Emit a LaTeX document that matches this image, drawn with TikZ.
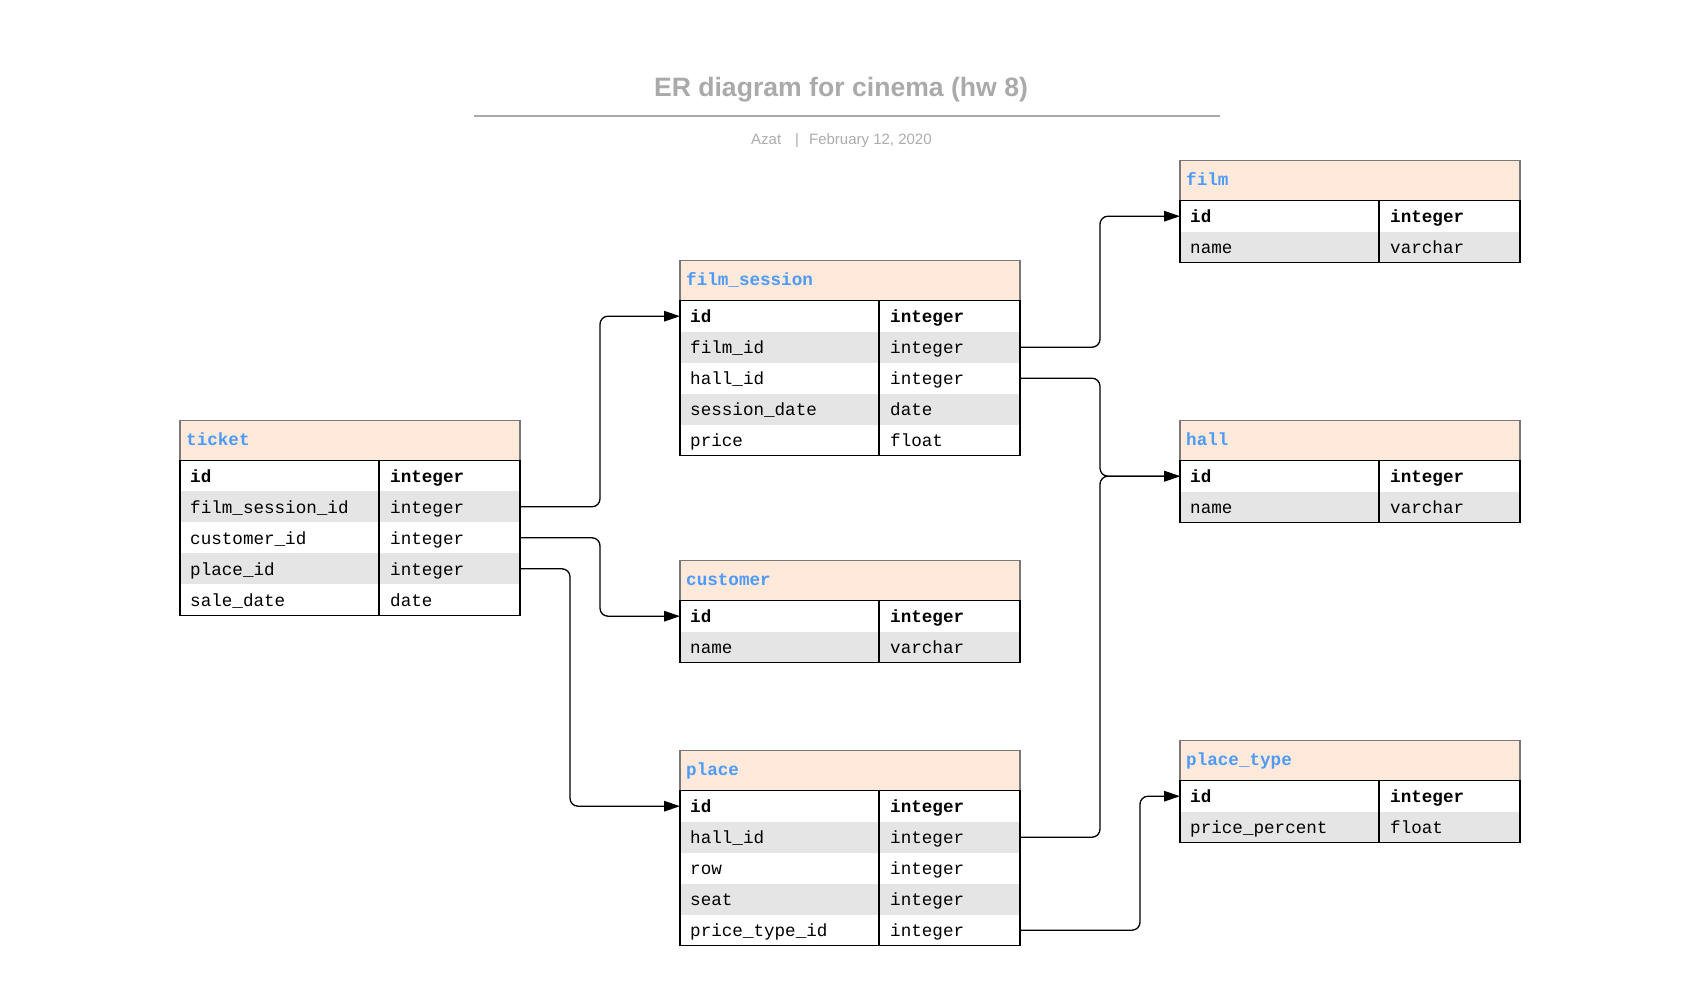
\documentclass[tikz,border=0pt]{standalone}
\usepackage{fontspec}
\setmainfont{Liberation Sans}
\newfontfamily\monof{Liberation Mono}
\usetikzlibrary{arrows.meta}
\definecolor{hdrfill}{RGB}{255,233,219}
\definecolor{hdrline}{RGB}{120,120,120}
\definecolor{rowgrey}{RGB}{229,229,229}
\definecolor{tblue}{RGB}{77,154,247}
\definecolor{titlegrey}{RGB}{170,170,170}
\definecolor{subgrey}{RGB}{172,172,172}
\newcommand\tfont{\monof\fontsize{17.6pt}{21pt}\selectfont}
\tikzset{
  hdrbox/.style={anchor=north west, minimum width=340pt, minimum height=40pt, inner sep=0pt, outer sep=0pt, fill=hdrfill, draw=hdrline, line width=1.2pt},
  hdrtext/.style={anchor=base west, inner sep=0pt, font=\tfont\bfseries, text=tblue},
  rowbox/.style={anchor=north west, minimum width=340pt, minimum height=31pt, inner sep=0pt, outer sep=0pt, draw=none},
  fieldtext/.style={anchor=base west, inner sep=0pt, font=\tfont, text=black},
  tblline/.style={draw=black, line width=1.4pt},
  conn/.style={draw=black, line width=1.3pt, rounded corners=8pt, -{Triangle[length=16pt,width=10.5pt]}},
}
\newcommand\ertable[6]{% #1 name, #2 title, #3 x, #4 y, #5 rows, #6 count
  \node[hdrbox] (#1) at (#3,#4) {};
  \node[hdrtext] (#1-t) at (#3+6,#4+25) {#2};
  \foreach \fa/\fb [count=\i] in {#5} {
    \pgfmathsetmacro\yy{#4+40+(\i-1)*31}
    \ifodd\i \def\rf{white}\else\def\rf{rowgrey}\fi
    \node[rowbox, fill=\rf] (#1-\i) at (#3,\yy) {};
    \ifnum\i=1
      \node[fieldtext, font=\tfont\bfseries] (#1-\i a) at (#3+10,\yy+22) {\fa};
      \node[fieldtext, font=\tfont\bfseries] (#1-\i b) at (#3+210,\yy+22) {\fb};
    \else
      \node[fieldtext] (#1-\i a) at (#3+10,\yy+22) {\fa};
      \node[fieldtext] (#1-\i b) at (#3+210,\yy+22) {\fb};
    \fi
  }
  \draw[tblline] (#3,#4+40) rectangle (#3+340,#4+40+#6*31);
  \draw[tblline] (#3+199,#4+40) -- (#3+199,#4+40+#6*31);
}
\begin{document}
\begin{tikzpicture}[x=1pt,y=-1pt]
\useasboundingbox (0,0) rectangle (1700,1007);
% title block
\node[anchor=base, inner sep=0pt, font=\bfseries\fontsize{26.6pt}{30pt}\selectfont, text=titlegrey] (title) at (841,96) {ER diagram for cinema (hw 8)};
\coordinate (ruleL) at (474,115.7);
\coordinate (ruleR) at (1220,115.7);
\draw[titlegrey, line width=2pt] (ruleL) -- (ruleR);
\node[anchor=base west, inner sep=0pt, font=\fontsize{15pt}{18pt}\selectfont, text=subgrey] (sub) at (751,144) {Azat\hspace{14pt}|\hspace{10pt}February 12, 2020};
% tables
\ertable{film}{film}{1180}{160.7}{id/integer, name/varchar}{2}
\ertable{fs}{film\_session}{680}{260.7}{id/integer, film\_id/integer, hall\_id/integer, session\_date/date, price/float}{5}
\ertable{tk}{ticket}{180}{420.3}{id/integer, film\_session\_id/integer, customer\_id/integer, place\_id/integer, sale\_date/date}{5}
\ertable{hall}{hall}{1180}{420.7}{id/integer, name/varchar}{2}
\ertable{cust}{customer}{680}{560.7}{id/integer, name/varchar}{2}
\ertable{place}{place}{680}{750.7}{id/integer, hall\_id/integer, row/integer, seat/integer, price\_type\_id/integer}{5}
\ertable{pt}{place\_type}{1180}{740.7}{id/integer, price\_percent/float}{2}
% connectors
\draw[conn] (tk-2.east) -- ++(80,0) |- (fs-1.west);
\draw[conn] (tk-3.east) -- ++(80,0) |- (cust-1.west);
\draw[conn] (tk-4.east) -- ++(50,0) |- (place-1.west);
\draw[conn] (fs-2.east) -- ++(80,0) |- (film-1.west);
\draw[conn] (fs-3.east) -- ++(80,0) |- (hall-1.west);
\draw[conn] (place-2.east) -- ++(80,0) |- (hall-1.west);
\draw[conn] (place-5.east) -- ++(120,0) |- (pt-1.west);
\end{tikzpicture}
\end{document}
